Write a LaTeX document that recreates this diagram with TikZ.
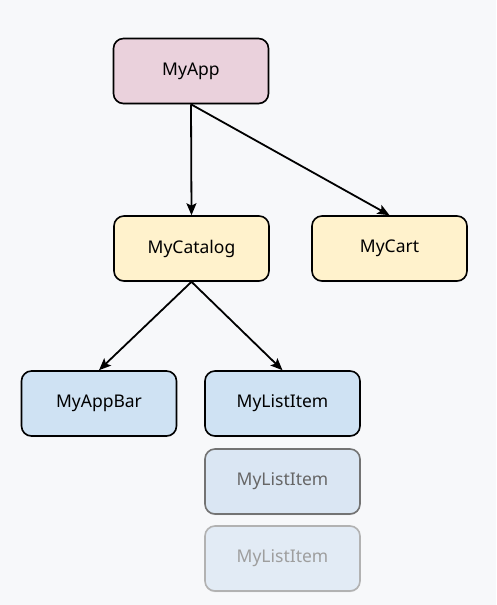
\documentclass[tikz,border=0pt]{standalone}
\usepackage{fontspec}
\setmainfont{Noto Sans}
\usetikzlibrary{arrows.meta,shadows}
\definecolor{bg}{HTML}{F7F8FA}
\definecolor{pinkfill}{HTML}{EAD1DC}
\definecolor{yellowfill}{HTML}{FFF2CC}
\definecolor{bluefill}{HTML}{CFE2F3}
\definecolor{bluefillB}{HTML}{DAE6F3}
\definecolor{bluefillC}{HTML}{E2EBF5}
\tikzset{
  comp/.style={draw=black, line width=1.6pt, rounded corners=10pt,
    minimum width=155pt, minimum height=65pt, inner sep=0pt,
    font=\fontsize{17.5}{20}\selectfont,
    drop shadow={shadow xshift=0pt, shadow yshift=-1.2pt, opacity=0.25}},
  link/.style={line width=1.8pt, -{Stealth[length=12pt,width=10pt,inset=2.5pt]}},
}
\begin{document}
\begin{tikzpicture}[x=1pt,y=-1pt]
  \fill[bg] (0,0) rectangle (496,605);
  \useasboundingbox (0,0) rectangle (496,605);
  \node[comp, fill=pinkfill] (app) at (191,71) {MyApp};
  \node[comp, fill=yellowfill] (catalog) at (191.5,248.5) {MyCatalog};
  \node[comp, fill=yellowfill] (cart) at (389.5,248.5) {MyCart};
  \node[comp, fill=bluefill] (appbar) at (99,403.5) {MyAppBar};
  \node[comp, fill=bluefill] (item1) at (282.5,403.5) {MyListItem};
  \node[comp, fill=bluefillB, draw=black!55, text=black!60] (item2) at (282.5,481.5) {MyListItem};
  \node[comp, fill=bluefillC, draw=black!30, text=black!38] (item3) at (282.5,558.5) {MyListItem};
  \draw[link] (app.south) -- (catalog.north);
  \draw[link] (app.south) -- (cart.north);
  \draw[link] (catalog.south) -- (appbar.north);
  \draw[link] (catalog.south) -- (item1.north);
\end{tikzpicture}
\end{document}
